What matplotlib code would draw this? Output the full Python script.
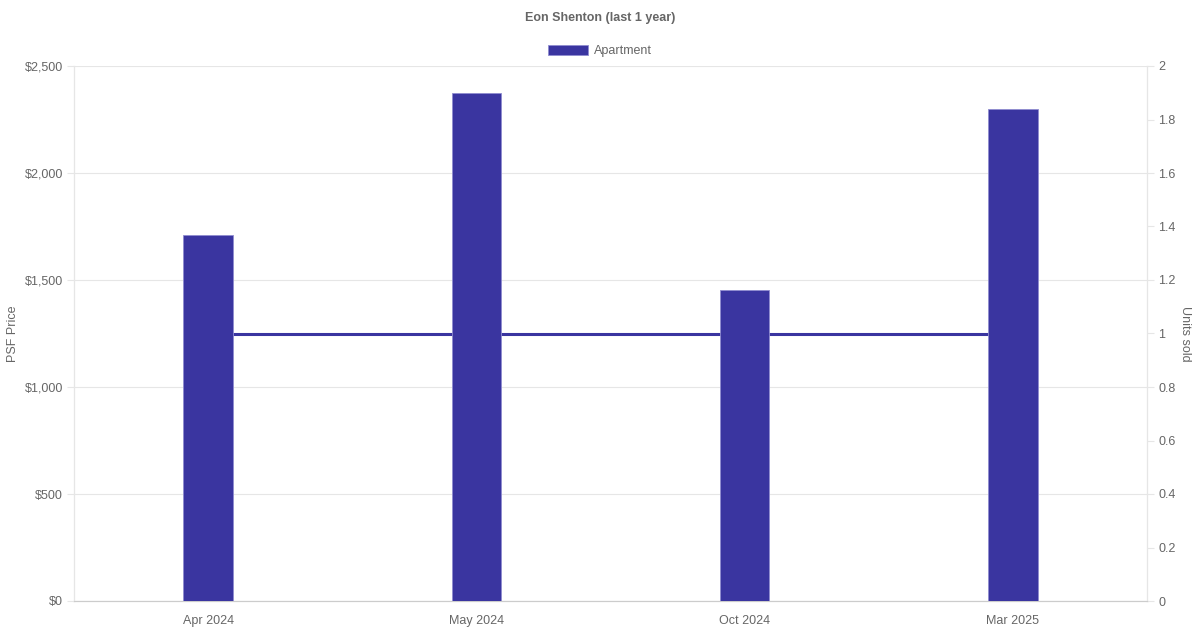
import matplotlib
matplotlib.use("Agg")
import matplotlib.pyplot as plt
from matplotlib.patches import Patch
from matplotlib.ticker import FuncFormatter, MultipleLocator

categories = ["Apr 2024", "May 2024", "Oct 2024", "Mar 2025"]
psf_price = [1712, 2375, 1455, 2300]
units_sold = [1, 1, 1, 1]

bar_color = "#3A35A0"
text_color = "#666666"
grid_color = "#e6e6e6"

plt.rcParams['font.family'] = ['Liberation Sans', 'DejaVu Sans']

fig = plt.figure(figsize=(12, 6.3), dpi=100)
ax = fig.add_axes([74/1200, 29/630, (1147-74)/1200, (601-66)/630])
ax2 = ax.twinx()

x = list(range(len(categories)))
ax.bar(x, psf_price, width=0.185, color=bar_color, edgecolor="#8f8cd0", linewidth=0.6, zorder=3)
ax2.plot(x, units_sold, color=bar_color, linewidth=2.2, zorder=2)

ax.set_zorder(ax2.get_zorder() + 1)
ax.patch.set_visible(False)

ax.set_xlim(-0.5, len(categories) - 0.5)
ax.set_ylim(0, 2500)
ax2.set_ylim(0, 2)
ax.yaxis.set_major_locator(MultipleLocator(500))
ax2.yaxis.set_major_locator(MultipleLocator(0.2))
ax.yaxis.set_major_formatter(FuncFormatter(lambda v, p: f"${v:,.0f}"))
ax2.yaxis.set_major_formatter(FuncFormatter(lambda v, p: "0" if v == 0 else ("%g" % round(v, 1))))

ax.set_xticks(x)
ax.set_xticklabels(categories)
ax.grid(axis="y", color=grid_color, linewidth=0.8, zorder=0)
ax.set_axisbelow(True)

for a in (ax, ax2):
    for s in ("top",):
        a.spines[s].set_visible(False)
    a.spines["left"].set_color(grid_color)
    a.spines["right"].set_color(grid_color)
    a.spines["bottom"].set_color("#cccccc")

ax.tick_params(axis="x", length=0, pad=10, labelsize=9, labelcolor=text_color)
ax.tick_params(axis="y", length=5, width=0.8, color=grid_color, pad=3, labelsize=9, labelcolor=text_color)
ax2.tick_params(axis="y", length=5, width=0.8, color=grid_color, pad=3, labelsize=9, labelcolor=text_color)

ax.set_ylabel("PSF Price", fontsize=9, color=text_color, labelpad=4)
ax2.set_ylabel("Units sold", fontsize=9, color=text_color, rotation=270, labelpad=11)

fig.text(0.5, 1 - 17/630, "Eon Shenton (last 1 year)", ha="center", va="center_baseline",
         fontsize=9, fontweight="bold", color=text_color)

handle = Patch(facecolor=bar_color, edgecolor="#8f8cd0", linewidth=0.6)
fig.legend([handle], ["Apartment"], loc="center", bbox_to_anchor=(0.5, 1 - 51/630),
           frameon=False, fontsize=9, labelcolor=text_color, handlelength=3.2,
           handleheight=0.95, handletextpad=0.5)

fig.savefig("out.png", dpi=100)
